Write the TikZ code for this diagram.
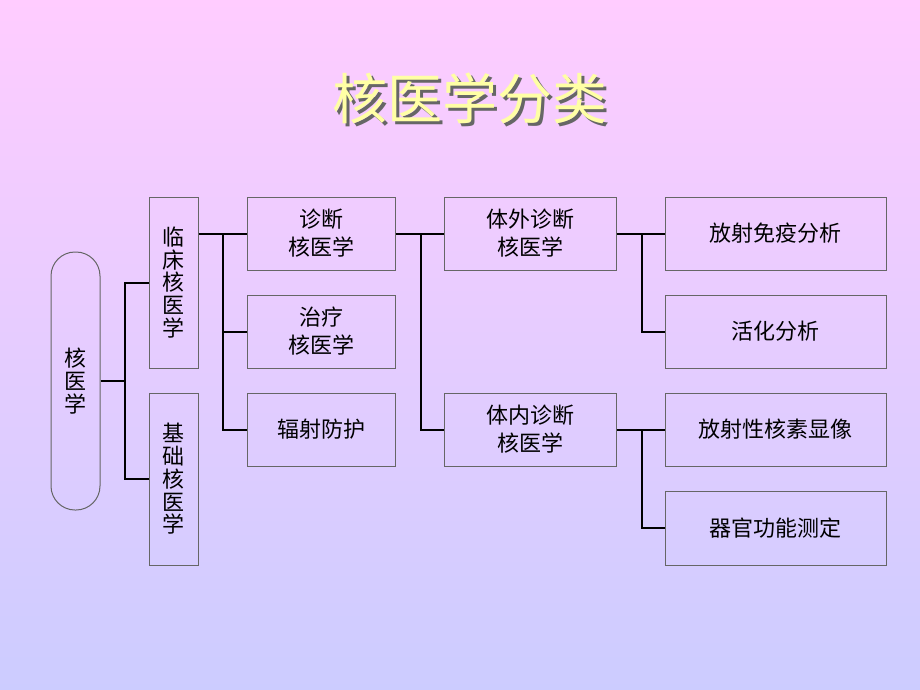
\documentclass[tikz,border=0pt]{standalone}
\usepackage{fontspec}
\newfontfamily\cjk{Noto Sans CJK SC}
\definecolor{bgtop}{RGB}{255,204,255}
\definecolor{bgbottom}{RGB}{204,204,255}
\definecolor{titleyellow}{RGB}{255,255,165}
\newcommand\shadowtext[1]{\rlap{\hspace{3pt}\raisebox{-3pt}{\textcolor{black!60}{#1}}}\textcolor{titleyellow}{#1}}

\begin{document}
\begin{tikzpicture}[x=1pt, y=-1pt,
  box/.style={draw=black!60, line width=1pt, inner sep=0pt, align=center,
    font=\cjk\fontsize{22}{28}\selectfont},
  tallbox/.style={box, minimum width=49pt, font=\cjk\fontsize{22}{22.8}\selectfont},
  link/.style={line width=2pt, black}]
\useasboundingbox (0,0) rectangle (920,690);
\shade [top color=bgtop, bottom color=bgbottom] (0,0) rectangle (920,690);

\node [font=\cjk\fontsize{55}{60}\selectfont] (title) at (470,100) {\shadowtext{核医学分类}};

\node [tallbox, minimum height=258pt, rounded corners=24pt] (hx) at (75.5,381) {核\\医\\学};
\node [tallbox, minimum height=171pt] (lc) at (173.5,282.5) {临\\床\\核\\医\\学};
\node [tallbox, minimum height=172pt] (jc) at (173.5,479) {基\\础\\核\\医\\学};

\node [box, minimum width=148pt, minimum height=73pt] (zd) at (321,233.5) {诊断\\核医学};
\node [box, minimum width=148pt, minimum height=73pt] (zl) at (321,331.5) {治疗\\核医学};
\node [box, minimum width=148pt, minimum height=73pt] (fs) at (321,429.5) {辐射防护};

\node [box, minimum width=172pt, minimum height=73pt] (tw) at (530,233.5) {体外诊断\\核医学};
\node [box, minimum width=172pt, minimum height=73pt] (tn) at (530,429.5) {体内诊断\\核医学};

\node [box, minimum width=221pt, minimum height=73pt] (my) at (775.5,233.5) {放射免疫分析};
\node [box, minimum width=221pt, minimum height=73pt] (hh) at (775.5,331.5) {活化分析};
\node [box, minimum width=221pt, minimum height=73pt] (xx) at (775.5,429.5) {放射性核素显像};
\node [box, minimum width=221pt, minimum height=74pt] (qg) at (775.5,528) {器官功能测定};

\path (hx.east) ++(24,0) coordinate (b1);
\draw [link] (hx.east) -- (b1) |- (lc.west);
\draw [link] (b1) |- (jc.west);

\path (lc.east |- zd.west) ++(24,0) coordinate (b2);
\draw [link] (lc.east |- zd.west) -- (zd.west);
\draw [link] (b2) |- (zl.west);
\draw [link] (b2) |- (fs.west);

\path (zd.east) ++(25,0) coordinate (b3);
\draw [link] (zd.east) -- (tw.west);
\draw [link] (b3) |- (tn.west);

\path (tw.east) ++(25,0) coordinate (b4);
\draw [link] (tw.east) -- (my.west);
\draw [link] (b4) |- (hh.west);

\path (tn.east) ++(25,0) coordinate (b5);
\draw [link] (tn.east) -- (xx.west);
\draw [link] (b5) |- (qg.west);
\end{tikzpicture}
\end{document}
